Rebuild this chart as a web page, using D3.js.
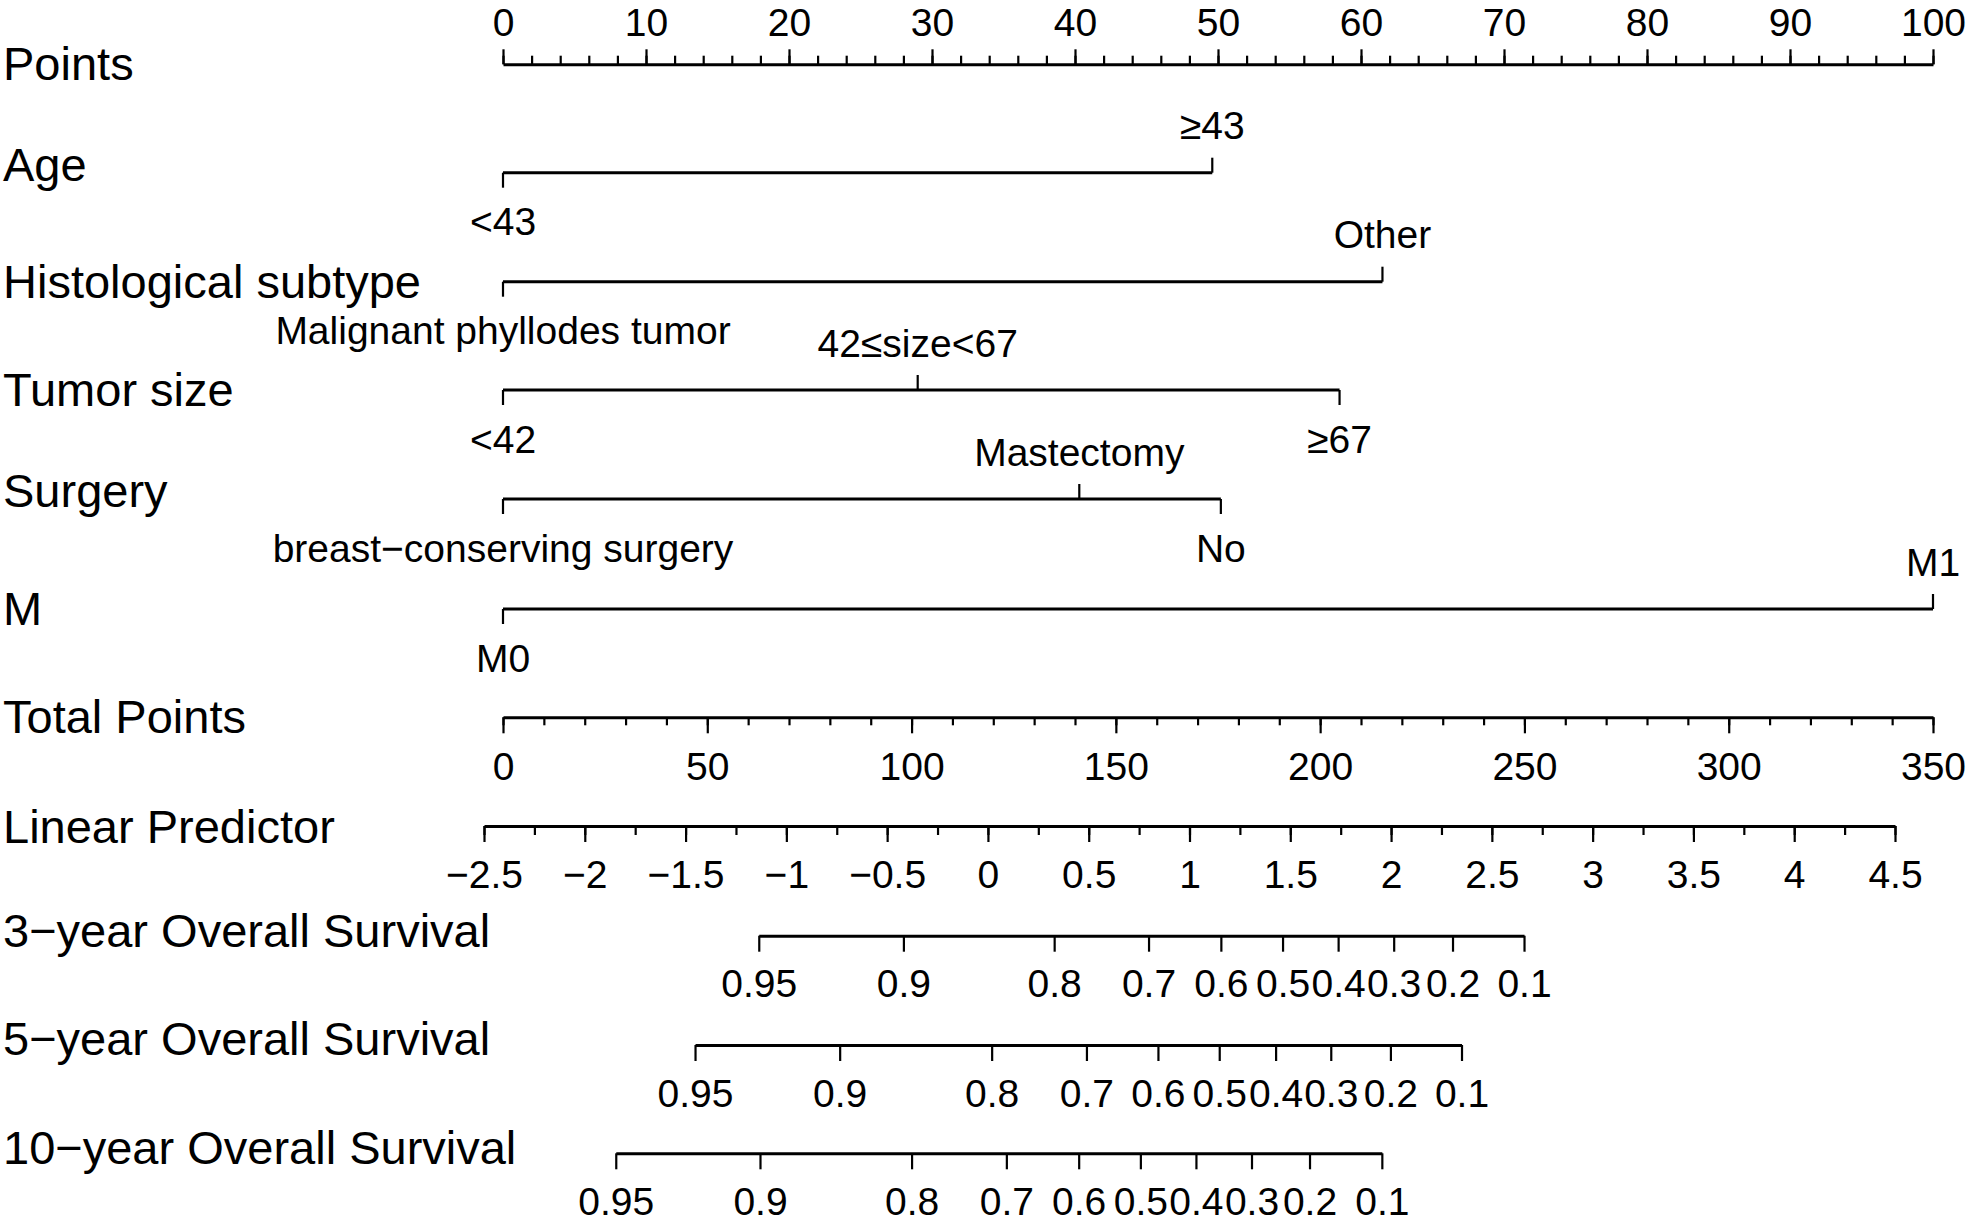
<!DOCTYPE html>
<html>
<head>
<meta charset="utf-8">
<script src="https://cdn.jsdelivr.net/npm/d3@7"></script>
<style>
  html, body { margin: 0; padding: 0; background: #fff; }
  svg text { font-family: "Liberation Sans", Arial, Helvetica, sans-serif; fill: #000; }
</style>
</head>
<body>
<svg id="chart" width="1969" height="1222"></svg>
<script>
// ---------------- DATA ----------------
const rowNames = ["Points", "Age", "Histological subtype", "Tumor size", "Surgery", "M",
  "Total Points", "Linear Predictor",
  "3\u2212year Overall Survival", "5\u2212year Overall Survival", "10\u2212year Overall Survival"];

const pointsTicks = [0, 10, 20, 30, 40, 50, 60, 70, 80, 90, 100];
const totalTicks = [0, 50, 100, 150, 200, 250, 300, 350];
const lpTicks = [-2.5, -2, -1.5, -1, -0.5, 0, 0.5, 1, 1.5, 2, 2.5, 3, 3.5, 4, 4.5];

const ageLevels = ["<43", "\u226543"];
const agePoints = [0, 49.6];
const agePlace = ["below", "above"];

const histLevels = ["Malignant phyllodes tumor", "Other"];
const histPoints = [0, 61.5];
const histPlace = ["below", "above"];

const sizeLevels = ["<42", "42\u2264size<67", "\u226567"];
const sizePoints = [0, 29.0, 58.5];
const sizePlace = ["below", "above", "below"];

const surgeryLevels = ["breast\u2212conserving surgery", "Mastectomy", "No"];
const surgeryPoints = [0, 40.3, 50.2];
const surgeryPlace = ["below", "above", "below"];

const mLevels = ["M0", "M1"];
const mPoints = [0, 100];
const mPlace = ["below", "above"];

const survLabels = ["0.95", "0.9", "0.8", "0.7", "0.6", "0.5", "0.4", "0.3", "0.2", "0.1"];
// total points at which each survival probability falls
const surv3Total  = [62.6, 98.0, 134.9, 158.0, 175.7, 190.8, 204.4, 218.0, 232.4, 249.9];
const surv5Total  = [47.0, 82.4, 119.6, 142.8, 160.3, 175.3, 189.1, 202.6, 217.2, 234.6];
const surv10Total = [27.6, 62.9, 100.0, 123.2, 140.9, 156.0, 169.6, 183.2, 197.4, 215.1];

// ---------------- LAYOUT ----------------
const W = 1969, H = 1222;
const labelFont = 47, tickFont = 39;
const lineW = 3, tickW = 2.2;
const lineY = [64.3, 172.7, 281.7, 390, 499, 609, 717.3, 826, 935.7, 1045, 1153.3];
const nameBase = [80, 181, 298, 406, 507, 625, 733, 843, 947, 1055, 1164];

const svg = d3.select("#chart");
svg.append("rect").attr("width", W).attr("height", H).attr("fill", "#fff");

const xPts = d3.scaleLinear().domain([0, 100]).range([503, 1933]);
const xTot = d3.scaleLinear().domain([0, 350]).range([503, 1933]);
const xLP  = d3.scaleLinear().domain([-2.5, 4.5]).range([484, 1895]);

// row names
svg.append("g").selectAll("text").data(rowNames).join("text")
  .attr("x", 3).attr("y", (d, i) => nameBase[i])
  .attr("font-size", labelFont).text(d => d);

function fmtMinus(v) { return String(v).replace("-", "\u2212"); }

function styleAxis(g) {
  g.attr("font-family", null).attr("font-size", null);
  g.select(".domain").attr("stroke", "#000").attr("stroke-width", lineW);
  g.selectAll(".tick line").attr("stroke", "#000").attr("stroke-width", tickW);
  g.selectAll(".tick text").attr("font-size", tickFont).attr("fill", "#000");
}

// numeric axis with major + minor ticks
function numericAxis(scale, y, major, minor, top, majorLen, minorLen, labelOffset, fmt) {
  const mk = top ? d3.axisTop : d3.axisBottom;
  const gMinor = svg.append("g").attr("transform", `translate(0,${y})`)
    .call(mk(scale).tickValues(minor).tickSize(minorLen).tickSizeOuter(0).tickFormat(""));
  styleAxis(gMinor);
  gMinor.select(".domain").remove();
  const gMajor = svg.append("g").attr("transform", `translate(0,${y})`)
    .call(mk(scale).tickValues(major).tickSize(majorLen).tickSizeOuter(0).tickFormat(fmt));
  styleAxis(gMajor);
  gMajor.selectAll(".tick text").attr("dy", null).attr("y", labelOffset);
}

// Points
numericAxis(xPts, lineY[0], pointsTicks, d3.range(0, 100.001, 2), true, 15, 8.6, -28.8, d => d);
// Total Points
numericAxis(xTot, lineY[6], totalTicks, d3.range(0, 350.001, 10), false, 16, 8, 62.7, d => d);
// Linear predictor
numericAxis(xLP, lineY[7], lpTicks, d3.range(-2.5, 4.5001, 0.25), false, 16, 9, 62.3, fmtMinus);

// categorical rows
function catRow(levels, pts, place, y) {
  const sub = d3.scaleLinear().domain(d3.extent(pts)).range(d3.extent(pts).map(xPts));
  const g = svg.append("g").attr("transform", `translate(0,${y})`);
  g.append("line").attr("x1", sub.range()[0]).attr("x2", sub.range()[1])
    .attr("y1", 0).attr("y2", 0).attr("stroke", "#000").attr("stroke-width", lineW);
  const data = levels.map((l, i) => ({ l, p: pts[i], up: place[i] === "above" }));
  g.selectAll("line.t").data(data).join("line").attr("class", "t")
    .attr("x1", d => sub(d.p)).attr("x2", d => sub(d.p))
    .attr("y1", 0).attr("y2", d => d.up ? -15 : 15)
    .attr("stroke", "#000").attr("stroke-width", tickW);
  g.selectAll("text").data(data).join("text")
    .attr("x", d => sub(d.p)).attr("y", d => d.up ? -33.5 : 62.7)
    .attr("text-anchor", "middle").attr("font-size", tickFont).text(d => d.l);
}
catRow(ageLevels, agePoints, agePlace, lineY[1]);
catRow(histLevels, histPoints, histPlace, lineY[2]);
catRow(sizeLevels, sizePoints, sizePlace, lineY[3]);
catRow(surgeryLevels, surgeryPoints, surgeryPlace, lineY[4]);
catRow(mLevels, mPoints, mPlace, lineY[5]);

// survival rows
function survRow(totals, y) {
  const ext = d3.extent(totals);
  const sub = d3.scaleLinear().domain(ext).range(ext.map(xTot));
  const g = svg.append("g").attr("transform", `translate(0,${y})`)
    .call(d3.axisBottom(sub).tickValues(totals).tickSize(16).tickSizeOuter(0)
      .tickFormat((d, i) => survLabels[i]));
  styleAxis(g);
  g.selectAll(".tick text").attr("dy", null).attr("y", 61.5);
}
survRow(surv3Total, lineY[8]);
survRow(surv5Total, lineY[9]);
survRow(surv10Total, lineY[10]);
</script>
</body>
</html>
